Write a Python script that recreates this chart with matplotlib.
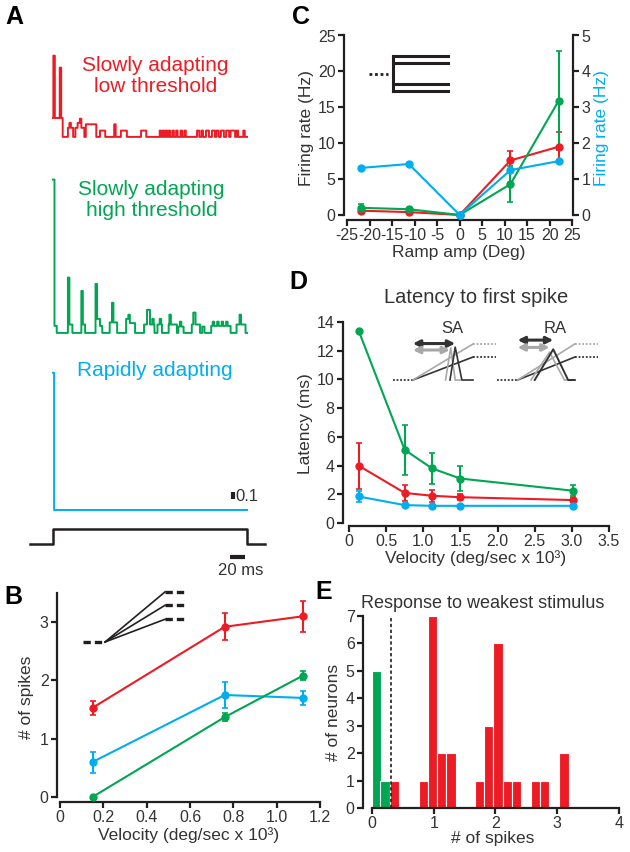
import numpy as np
import matplotlib.pyplot as plt

plt.rcParams['font.family'] = ['Liberation Sans', 'DejaVu Sans']
plt.rcParams['axes.unicode_minus'] = False

RED = '#ed1c24'
GREEN = '#00a651'
BLUE = '#00aeef'
INK = '#231f20'
TXT = '#333333'
GRAY = '#a8a8a8'

# ---------------- panel A: response traces (start ms, end ms, height) ----------------
red_segments = [
    (0, 13, 0.27), (0.5, 2.5, 1.16), (9, 11, 0.99),
    (20, 27, 0.13), (22, 24, 0.20),
    (30, 42, 0.13), (33, 36, 0.20), (36, 38, 0.26),
    (44, 58, 0.18), (63, 70, 0.09), (82, 84, 0.18),
    (91, 99, 0.09), (118, 125, 0.09),
    (143, 145, 0.09), (147, 149, 0.09), (151, 153, 0.09), (155, 157, 0.09),
    (160, 162, 0.09), (165, 167, 0.09), (171, 173, 0.09), (176, 178, 0.09),
    (193, 196, 0.09), (199, 201, 0.09), (205, 209, 0.09), (213, 217, 0.09),
    (219, 222, 0.09), (225, 229, 0.09), (232, 236, 0.09), (238, 244, 0.09),
    (246, 248, 0.09), (255, 257, 0.09),
]
green_segments = [
    (0, 2, 2.19), (2, 5, 0.10),
    (20, 22, 0.79), (22, 26, 0.12),
    (38, 40, 0.60), (40, 43, 0.12),
    (57, 59, 0.70), (57, 63, 0.20), (63, 66, 0.10),
    (76, 86, 0.15), (79, 81, 0.43),
    (98, 101, 0.20), (101, 103, 0.26), (103, 110, 0.14),
    (122, 136, 0.12), (126, 130, 0.33), (133, 135, 0.20),
    (140, 146, 0.12), (143, 145, 0.20),
    (155, 166, 0.12), (156, 158, 0.26),
    (168, 175, 0.09), (170, 172, 0.16),
    (186, 197, 0.12), (188, 191, 0.29),
    (200, 203, 0.09),
    (212, 238, 0.10), (214, 216, 0.16), (220, 222, 0.16), (226, 228, 0.16), (232, 234, 0.16),
    (246, 258, 0.12), (250, 252, 0.26),
]
blue_segments = [(0, 1.5, 1.96)]
trace_end = 260
stim_t = [-31, 0, 260, 284]
stim_level = [0, 1, 0, 0]

# ---------------- panel B: # of spikes vs velocity ----------------
b_vel = [0.15, 0.76, 1.12]
b_red = [1.53, 2.92, 3.10]
b_red_err = [0.12, 0.23, 0.27]
b_green = [0.0, 1.37, 2.08]
b_green_err = [0.0, 0.07, 0.08]
b_blue = [0.60, 1.75, 1.70]
b_blue_err = [0.18, 0.23, 0.12]

# ---------------- panel C: firing rate vs ramp amplitude ----------------
c_amp = [-22, -11.3, 0, 11.3, 22]
c_red = [0.6, 0.4, 0.0, 7.6, 9.5]
c_red_err = [0.2, 0.15, 0.0, 1.3, 2.1]
c_green = [1.0, 0.8, 0.0, 4.3, 15.9]
c_green_err = [0.5, 0.2, 0.0, 2.5, 6.9]
c_blue = [1.31, 1.42, 0.0, 1.25, 1.50]

# ---------------- panel D: latency to first spike ----------------
d_vel = [0.13, 0.75, 1.12, 1.50, 3.02]
d_green = [13.4, 5.1, 3.8, 3.1, 2.25]
d_green_err = [0.0, 1.75, 1.1, 0.85, 0.4]
d_red = [4.0, 2.1, 1.9, 1.8, 1.6]
d_red_err = [1.6, 0.55, 0.4, 0.2, 0.15]
d_blue = [1.85, 1.25, 1.2, 1.2, 1.2]
d_blue_err = [0.4, 0.1, 0.05, 0.05, 0.05]

# ---------------- panel E: response to weakest stimulus ----------------
e_green_x = [0.07, 0.21]
e_green_n = [5, 1]
e_red_x = [0.36, 0.83, 0.98, 1.13, 1.28, 1.74, 1.89, 2.04, 2.19, 2.34, 2.65, 2.80, 3.11]
e_red_n = [1, 1, 7, 2, 2, 1, 3, 6, 1, 1, 1, 1, 2]
e_cutoff = 0.30

W, H = 630, 852
fig = plt.figure(figsize=(W / 100, H / 100), dpi=100)


def px_axes(left, top, right, bottom):
    return fig.add_axes([left / W, 1 - bottom / H, (right - left) / W, (bottom - top) / H])


def style(ax):
    for s in ['top', 'right']:
        ax.spines[s].set_visible(False)
    for s in ['left', 'bottom']:
        ax.spines[s].set_linewidth(1.6)
        ax.spines[s].set_color(INK)
    ax.tick_params(direction='out', length=4, width=1.6, labelsize=11.5,
                   color=INK, labelcolor=TXT, pad=2)


def psth(segments):
    t = np.arange(0, trace_end + 0.5, 0.5)
    h = np.zeros_like(t)
    for t0, t1, v in segments:
        m = (t >= t0) & (t < t1)
        h[m] = np.maximum(h[m], v)
    return t, h


def letter(x, y, s):
    fig.text(x / W, 1 - y / H, s, fontsize=18, fontweight='bold', color='black',
             ha='center', va='center')


# ---- A
ax = px_axes(20, 30, 270, 580)
ax.axis('off')
ax.set_xlim(-44.2, 290.8)
ax.set_ylim(0, 550 / 70)
for segs, base, col in [(red_segments, 6.33, RED), (green_segments, 3.53, GREEN),
                        (blue_segments, 1.0, BLUE)]:
    t, h = psth(segs)
    ax.plot(t, base + h, drawstyle='steps-post', color=col, lw=1.4)
ax.plot(stim_t, 0.514 + 0.214 * np.array(stim_level), drawstyle='steps-post', color=INK, lw=1.8)
ax.text(137, 7.2, 'Slowly adapting\nlow threshold', color=RED, fontsize=15,
        ha='center', va='center', linespacing=1.15)
ax.text(132, 5.43, 'Slowly adapting\nhigh threshold', color=GREEN, fontsize=15,
        ha='center', va='center', linespacing=1.15)
ax.text(136, 3.0, 'Rapidly adapting', color=BLUE, fontsize=15, ha='center', va='center')
ax.plot([241, 241], [1.157, 1.257], color=INK, lw=3, solid_capstyle='butt')
ax.text(245, 1.2, '0.1', fontsize=12, color=TXT, va='center', ha='left')
ax.plot([237, 257], [0.33, 0.33], color=INK, lw=3, solid_capstyle='butt')
ax.text(252, 0.13, '20 ms', fontsize=12, color=TXT, va='center', ha='center')

# ---- B
ax = px_axes(57, 593, 320, 802)
style(ax)
ax.set_xlim(-0.014, 1.2)
ax.set_ylim(-0.086, 3.5)
ax.spines['left'].set_bounds(0, 3.5)
ax.spines['bottom'].set_bounds(0, 1.2)
for y, e, col in [(b_red, b_red_err, RED), (b_blue, b_blue_err, BLUE), (b_green, b_green_err, GREEN)]:
    ax.errorbar(b_vel, y, yerr=e, fmt='-o', color=col, ms=5, lw=1.5, elinewidth=1.5,
                capsize=2, capthick=1.2, clip_on=False, zorder=3)
ax.set_xticks([0, 0.2, 0.4, 0.6, 0.8, 1.0, 1.2])
ax.set_xticklabels(['0', '0.2', '0.4', '0.6', '0.8', '1.0', '1.2'])
ax.set_yticks([0, 1, 2, 3])
ax.set_xlabel('Velocity (deg/sec x 10³)', fontsize=12.5, color=TXT, labelpad=1)
ax.set_ylabel('# of spikes', fontsize=12.5, color=TXT, labelpad=4)
# ramp stimulus sketch
dash = (0, (2.2, 1.2))
ax.plot([0.106, 0.208], [2.66, 2.66], color=INK, lw=2.4, linestyle=dash, clip_on=False)
for yt in [3.52, 3.29, 3.05]:
    ax.plot([0.208, 0.485], [2.66, yt], color=INK, lw=1.2, clip_on=False)
    ax.plot([0.485, 0.586], [yt, yt], color=INK, lw=2.4, linestyle=dash, clip_on=False)

# ---- C
ax = px_axes(344, 35.5, 573, 220)
style(ax)
ax.set_xlim(-25.7, 25.2)
ax.set_ylim(-0.7, 25)
ax.spines['left'].set_bounds(0, 25)
ax.spines['bottom'].set_bounds(-25, 25)
for y, e, col in [(c_red, c_red_err, RED), (c_green, c_green_err, GREEN)]:
    ax.errorbar(c_amp, y, yerr=e, fmt='-o', color=col, ms=5, lw=1.5, elinewidth=1.5,
                capsize=2, capthick=1.2, clip_on=False, zorder=3)
ax.set_xticks(range(-25, 26, 5))
ax.set_yticks(range(0, 26, 5))
ax.set_xlabel('Ramp amp (Deg)', fontsize=12.5, color=TXT, labelpad=1)
ax.set_ylabel('Firing rate (Hz)', fontsize=12.5, color=TXT, labelpad=3)
ax.plot([-20.1, -15.9], [19.7, 19.7], color=INK, lw=2, linestyle=(0, (1, 1)))
ax.plot([-14.8, -14.8], [17.2, 22.2], color=INK, lw=2.2)
for yy in [22.2, 21.1, 18.3, 17.2]:
    ax.plot([-14.8, -2.6], [yy, yy], color=INK, lw=2.2)
ax2 = ax.twinx()
ax2.set_position(ax.get_position())
ax2.set_ylim(-0.14, 5)
for s in ['top', 'left', 'bottom']:
    ax2.spines[s].set_visible(False)
ax2.spines['right'].set_bounds(0, 5)
ax2.spines['right'].set_linewidth(1.6)
ax2.spines['right'].set_color(INK)
ax2.tick_params(direction='out', length=4, width=1.6, labelsize=11.5, color=INK,
                labelcolor=TXT, pad=2)
ax2.set_yticks(range(0, 6))
ax2.plot(c_amp, c_blue, '-o', color=BLUE, ms=5, lw=1.5, clip_on=False, zorder=3)
ax2.set_ylabel('Firing rate (Hz)', fontsize=12.5, color=BLUE, labelpad=3)

# ---- D
ax = px_axes(343, 322, 609, 525.5)
style(ax)
ax.set_xlim(-0.08, 3.5)
ax.set_ylim(-0.17, 14)
ax.spines['left'].set_bounds(0, 14)
ax.spines['bottom'].set_bounds(0, 3.5)
for y, e, col in [(d_green, d_green_err, GREEN), (d_red, d_red_err, RED), (d_blue, d_blue_err, BLUE)]:
    ax.errorbar(d_vel, y, yerr=e, fmt='-o', color=col, ms=5, lw=1.5, elinewidth=1.5,
                capsize=2, capthick=1.2, clip_on=False, zorder=3)
ax.set_xticks([0, 0.5, 1.0, 1.5, 2.0, 2.5, 3.0, 3.5])
ax.set_xticklabels(['0', '0.5', '1.0', '1.5', '2.0', '2.5', '3.0', '3.5'])
ax.set_yticks(range(0, 15, 2))
ax.set_xlabel('Velocity (deg/sec x 10³)', fontsize=12.5, color=TXT, labelpad=1)
ax.set_ylabel('Latency (ms)', fontsize=12.5, color=TXT, labelpad=3)
ax.set_title('Latency to first spike', fontsize=14.5, color=TXT, pad=14)
# SA / RA sketches
base = 9.96
ax.text(1.39, 13.55, 'SA', fontsize=12, color=TXT, ha='center', va='center')
ax.text(2.77, 13.55, 'RA', fontsize=12, color=TXT, ha='center', va='center')
for x0, x1, yy, col in [(0.86, 1.43, 12.5, '#333333'), (0.86, 1.36, 12.05, GRAY),
                        (2.27, 2.75, 12.74, '#333333'), (2.27, 2.70, 12.23, GRAY)]:
    ax.annotate('', xy=(x0, yy), xytext=(x1, yy),
                arrowprops=dict(arrowstyle='<|-|>', color=col, lw=2.2, mutation_scale=10,
                                shrinkA=0, shrinkB=0))
for xs, xr, xe in [(0.59, 0.86, 1.67), (1.99, 2.27, 3.04)]:
    ax.plot([xs, xr], [base, base], color='#333333', lw=1.3, linestyle=(0, (1, 1)))
    ax.plot([xr, xe], [base, 11.56], color='#333333', lw=1.2)
    ax.plot([xr, xe], [base, 12.47], color=GRAY, lw=1.2)
    ax.plot([xe, xe + 0.31], [11.56, 11.56], color='#333333', lw=1.3, linestyle=(0, (1, 1)))
    ax.plot([xe, xe + 0.31], [12.47, 12.47], color=GRAY, lw=1.3, linestyle=(0, (1, 1)))
ax.plot([1.30, 1.37, 1.43, 1.50], [base, 12.2, base, base], color=GRAY, lw=1.2)
ax.plot([1.36, 1.43, 1.52, 1.67], [base, 12.25, base, base], color='#333333', lw=1.2)
ax.plot([2.45, 2.70, 2.90, 3.0], [base, 11.9, base, base], color=GRAY, lw=1.2)
ax.plot([2.50, 2.75, 2.95, 3.04], [base, 12.1, base, base], color='#333333', lw=1.4)

# ---- E
ax = px_axes(363, 616, 622, 808)
style(ax)
ax.set_xlim(-0.146, 4.05)
ax.set_ylim(0, 7)
ax.spines['bottom'].set_bounds(0, 4)
ax.bar(e_green_x, e_green_n, width=0.15, color=GREEN, edgecolor='white', lw=0.8)
ax.bar(e_red_x, e_red_n, width=0.15, color=RED, edgecolor='white', lw=0.8)
ax.axvline(e_cutoff, color=INK, lw=1.2, linestyle=(0, (2, 1.5)))
ax.set_xticks(range(0, 5))
ax.set_yticks(range(0, 8))
ax.set_xlabel('# of spikes', fontsize=12.5, color=TXT, labelpad=0)
ax.set_ylabel('# of neurons', fontsize=12.5, color=TXT, labelpad=3)
fig.text(483 / W, 1 - 603 / H, 'Response to weakest stimulus', fontsize=13, color=TXT,
         ha='center', va='center')

letter(14, 17, 'A')
letter(13, 597, 'B')
letter(301, 17, 'C')
letter(298, 282, 'D')
letter(324, 592, 'E')

fig.savefig('out.png', dpi=100)
